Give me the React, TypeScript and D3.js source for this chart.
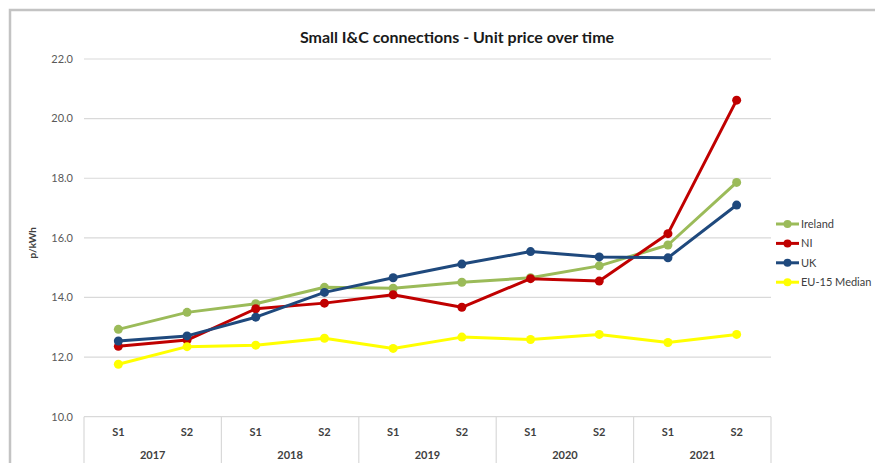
import React from 'react';
import * as d3 from 'd3';

const years = ['2017', '2018', '2019', '2020', '2021'];
const halves = ['S1', 'S2'];
const yTicks = [10, 12, 14, 16, 18, 20, 22];

const seriesNames = ['Ireland', 'NI', 'UK', 'EU-15 Median'];
const seriesColors = ['#9BBB59', '#C00000', '#1F497D', '#FFFF00'];
const ireland = [12.93, 13.5, 13.79, 14.34, 14.31, 14.51, 14.66, 15.06, 15.76, 17.86];
const ni = [12.36, 12.57, 13.62, 13.81, 14.09, 13.67, 14.63, 14.55, 16.14, 20.62];
const uk = [12.54, 12.71, 13.34, 14.17, 14.66, 15.12, 15.54, 15.36, 15.33, 17.1];
const eu = [11.76, 12.35, 12.4, 12.63, 12.29, 12.67, 12.59, 12.76, 12.49, 12.76];

const W = 875;
const H = 463;
const font = 'Lato, "Open Sans", sans-serif';

const App: React.FC = () => {
  const cats = years.flatMap(yr => halves.map(h => `${h} ${yr}`));
  const x = d3.scaleBand<string>().domain(cats).range([84, 771]);
  const y = d3.scaleLinear().domain([10, 22]).range([416.7, 59]);
  const cx = (i: number) => (x(cats[i]) as number) + x.bandwidth() / 2;
  const allSeries = [ireland, ni, uk, eu];

  const line = d3.line<number>()
    .x((_, i) => cx(i))
    .y(d => y(d));

  const groupW = x.bandwidth() * halves.length;
  const axisTop = y(10);

  return (
    <svg width={W} height={H} style={{ position: 'absolute', left: 0, top: 0, background: '#fff' }}
      fontFamily={font}>
      {/* frame of the embedded chart */}
      <rect x={10} y={10} width={W + 20} height={H + 20} fill="#fff" stroke="#c3c3c3" strokeWidth={2.5} />

      <text x={457} y={43} textAnchor="middle" fontSize={16} fontWeight="bold" fill="#1a1a1a">
        Small I&amp;C connections - Unit price over time
      </text>

      {/* grid + y ticks */}
      {yTicks.map(t => (
        <g key={t}>
          <line x1={84} x2={771} y1={y(t)} y2={y(t)} stroke="#d9d9d9" strokeWidth={1.2} />
          <text x={73} y={y(t)} dy="0.35em" textAnchor="end" fontSize={11} fill="#595959">
            {t.toFixed(1)}
          </text>
        </g>
      ))}

      <text transform={`translate(36,${(y(10) + y(22)) / 2 + 5}) rotate(-90)`} textAnchor="middle"
        fontSize={10} fontWeight="bold" fill="#404040">p/kWh</text>

      {/* category axis table */}
      {d3.range(years.length + 1).map(g => (
        <line key={g} x1={84 + g * groupW} x2={84 + g * groupW} y1={axisTop} y2={H}
          stroke="#d9d9d9" strokeWidth={1.2} />
      ))}
      {cats.map((c, i) => (
        <text key={c} x={cx(i)} y={431.7} dy="0.35em" textAnchor="middle" fontSize={11}
          fontWeight="bold" fill="#404040">{halves[i % 2]}</text>
      ))}
      {years.map((yr, g) => (
        <text key={yr} x={84 + g * groupW + groupW / 2} y={455} dy="0.35em" textAnchor="middle"
          fontSize={11} fontWeight="bold" fill="#404040">{yr}</text>
      ))}

      {/* series */}
      {allSeries.map((s, k) => (
        <g key={seriesNames[k]}>
          <path d={line(s) as string} fill="none" stroke={seriesColors[k]} strokeWidth={3}
            strokeLinejoin="round" />
          {s.map((v, i) => (
            <circle key={i} cx={cx(i)} cy={y(v)} r={4.5} fill={seriesColors[k]} />
          ))}
        </g>
      ))}

      {/* legend */}
      {seriesNames.map((n, k) => {
        const ly = 224 + k * 19.4;
        return (
          <g key={n}>
            <line x1={776} x2={799} y1={ly} y2={ly} stroke={seriesColors[k]} strokeWidth={3} />
            <circle cx={787.5} cy={ly} r={4} fill={seriesColors[k]} />
            <text x={801} y={ly} dy="0.35em" fontSize={11} fill="#404040">{n}</text>
          </g>
        );
      })}
    </svg>
  );
};

export default App;
